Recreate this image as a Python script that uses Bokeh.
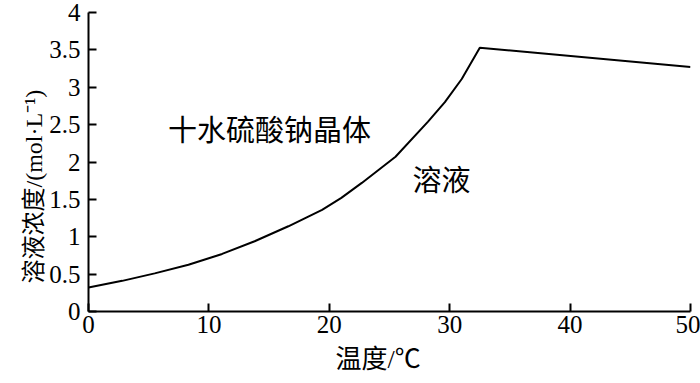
from bokeh.plotting import figure
from bokeh.models import Range1d, FixedTicker, Title, ColumnDataSource
from bokeh.core.properties import value
from bokeh.embed import file_html
from bokeh.resources import INLINE

# data
temperature = [0, 2.8, 5.5, 8.3, 11.1, 13.8, 16.6, 19.4, 21.0, 22.7, 25.5, 28.2, 29.6, 31.0, 32.5, 50]
concentration = [0.32, 0.41, 0.51, 0.625, 0.77, 0.94, 1.14, 1.36, 1.52, 1.72, 2.07, 2.54, 2.80, 3.11, 3.53, 3.27]
x_ticks = [0, 10, 20, 30, 40, 50]
y_ticks = [0, 0.5, 1, 1.5, 2, 2.5, 3, 3.5, 4]
y_tick_labels = {0: "0", 0.5: "0.5", 1: "1", 1.5: "1.5", 2: "2", 2.5: "2.5", 3: "3", 3.5: "3.5", 4: "4"}
region_texts = ["十水硫酸钠晶体", "溶液"]
region_x = [6.6, 26.9]
region_y = [2.45, 1.78]
x_title = "温度/℃"
y_title = "溶液浓度/(mol·L⁻¹)"

serif = "'Liberation Serif', 'Noto Sans CJK SC'"
cjk = "'Noto Sans CJK SC'"

p = figure(width=700, height=383, output_backend="svg", toolbar_location=None,
           x_range=Range1d(0, 50), y_range=Range1d(0, 4),
           min_border_left=88, min_border_right=10, min_border_top=12, min_border_bottom=72)
p.outline_line_color = None
p.grid.visible = False
p.background_fill_color = "white"
p.border_fill_color = "white"

for ax in (p.xaxis[0], p.yaxis[0]):
    ax.axis_line_width = 2
    ax.axis_line_color = "black"
    ax.major_tick_in = 8
    ax.major_tick_out = 0
    ax.major_tick_line_width = 2
    ax.major_tick_line_color = "black"
    ax.minor_tick_line_color = None
    ax.major_label_text_font = serif
    ax.major_label_text_font_size = "25px"
    ax.major_label_text_color = "black"

p.xaxis.ticker = FixedTicker(ticks=x_ticks)
p.yaxis.ticker = FixedTicker(ticks=y_ticks)
p.yaxis.major_label_overrides = {k: v for k, v in y_tick_labels.items()}
p.xaxis.major_label_standoff = 4
p.yaxis.major_label_standoff = 8

p.line(temperature, concentration, line_color="black", line_width=2)

src = ColumnDataSource(dict(x=region_x, y=region_y, t=region_texts))
p.text(x="x", y="y", text="t", source=src, text_font=value(cjk), text_font_size="29px",
       text_color="black", text_align="left", text_baseline="middle")

p.add_layout(Title(text=x_title, text_font=serif, text_font_size="26px", text_font_style="normal",
                   align="left", offset=247, standoff=15, text_color="black"), "below")
p.add_layout(Title(text=y_title, text_font=serif, text_font_size="24px", text_font_style="normal",
                   align="left", offset=28, standoff=0, text_color="black"), "left")

open("out.html", "w").write(file_html(p, INLINE))
